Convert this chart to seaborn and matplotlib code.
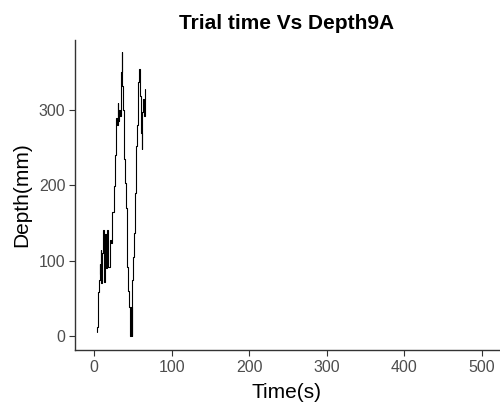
import matplotlib
matplotlib.use("Agg")
import matplotlib.pyplot as plt
import seaborn as sns
import pandas as pd

# Hand-read trace of depth vs time (stepped line)
time_s = [4.3, 4.3, 4.8, 4.8, 5.6, 5.6, 6.3, 6.3, 7.0, 7.0,
          7.8, 7.8, 8.6, 8.6, 9.4, 9.4, 10.3, 10.3, 11.6, 11.6,
          12.6, 12.6, 13.7, 13.7, 15.9, 15.9, 17.0, 17.0, 18.0, 18.0,
          20.2, 20.2, 22.3, 22.3, 23.6, 23.6, 25.0, 25.0, 26.0, 26.0,
          26.7, 26.7, 27.5, 27.5, 28.0, 28.0, 28.8, 28.8, 29.6, 29.6,
          30.4, 30.4, 31.2, 31.2, 32.0, 32.0, 33.0, 33.0, 34.0, 34.0,
          35.0, 35.0, 35.7, 35.7, 36.5, 36.5, 37.4, 37.4, 38.0, 38.0,
          38.7, 38.7, 39.8, 39.8, 40.8, 40.8, 42.0, 42.0, 43.0, 43.0,
          44.3, 44.3, 45.0, 45.0, 45.8, 45.8, 46.2, 46.2, 46.6, 46.6,
          47.0, 47.0, 47.4, 47.4, 47.8, 47.8, 48.2, 48.2, 48.5, 48.5,
          49.4, 49.4, 50.5, 50.5, 51.5, 51.5, 52.8, 52.8, 53.6, 53.6,
          54.5, 54.5, 55.4, 55.4, 56.2, 56.2, 57.0, 57.0, 58.0, 58.0,
          58.9, 58.9, 60.1, 60.1, 61.4, 61.4, 62.3, 62.3, 63.6, 63.6,
          64.4, 64.4, 65.7, 65.7]
depth_mm = [5, 12, 12, 40, 40, 58, 58, 75, 75, 95,
            95, 82, 82, 114, 114, 70, 70, 110, 110, 141,
            141, 72, 72, 136, 136, 90, 90, 141, 141, 92,
            92, 128, 128, 124, 124, 164, 164, 185, 185, 199,
            199, 222, 222, 240, 240, 271, 271, 290, 290, 280,
            280, 310, 310, 285, 285, 300, 300, 292, 292, 325,
            325, 350, 350, 377, 377, 332, 332, 300, 300, 270,
            270, 235, 235, 203, 203, 170, 170, 137, 137, 92,
            92, 60, 60, 39, 39, 5, 5, 38, 38, 0,
            0, 36, 36, 2, 2, 39, 39, 0, 0, 30,
            30, 75, 75, 105, 105, 137, 137, 190, 190, 220,
            220, 252, 252, 280, 280, 306, 306, 337, 337, 355,
            355, 319, 319, 270, 270, 248, 248, 297, 297, 315,
            315, 292, 292, 328]

x_ticks = [0, 100, 200, 300, 400, 500]
y_ticks = [0, 100, 200, 300]

df = pd.DataFrame({"Time(s)": time_s, "Depth(mm)": depth_mm})

sns.set_theme(style="white")
plt.rcParams["font.family"] = ["Liberation Sans", "DejaVu Sans"]

fig = plt.figure(figsize=(5.0, 4.03), dpi=100)
ax = fig.add_axes([0.15, 0.1315, 0.848, 0.7692])

sns.lineplot(data=df, x="Time(s)", y="Depth(mm)", ax=ax, color="black",
             linewidth=0.8, sort=False, estimator=None)

ax.set_xlim(-24.7, 522.3)
ax.set_ylim(-18.6, 393)
ax.set_xticks(x_ticks)
ax.set_yticks(y_ticks)

for side in ["top", "right"]:
    ax.spines[side].set_visible(False)
for side in ["left", "bottom"]:
    ax.spines[side].set_color("#333333")
    ax.spines[side].set_linewidth(1.0)

ax.tick_params(axis="both", which="both", length=4, width=0.8, color="#333333",
               labelcolor="#4D4D4D", labelsize=11.5, direction="out",
               bottom=True, left=True, pad=3)

ax.set_xlabel("Time(s)", fontsize=15, color="black", labelpad=6)
ax.set_ylabel("Depth(mm)", fontsize=15, color="black", labelpad=5)
ax.set_title("Trial time Vs Depth9A", fontsize=15, fontweight="bold",
             color="black", pad=8)

fig.savefig("out.png", dpi=100, facecolor="white")
